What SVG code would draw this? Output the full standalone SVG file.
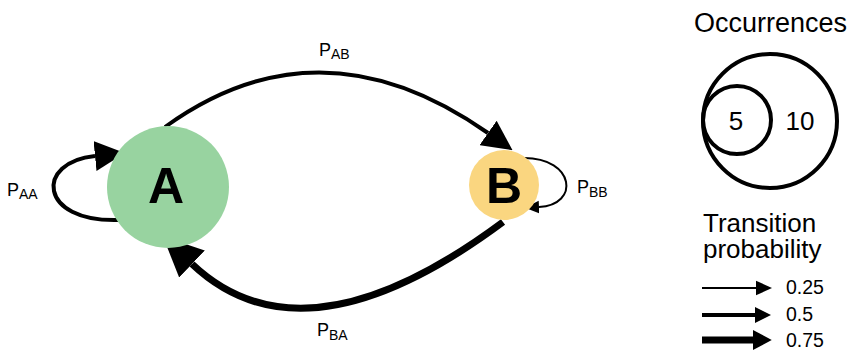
<svg xmlns="http://www.w3.org/2000/svg" width="850" height="351" viewBox="0 0 850 351">
<style>
.t{font-family:"Liberation Sans",Arial,sans-serif;fill:#000}
.lbl{font-size:18px}
.sub{font-size:14px}
.big{font-size:26px}
.num{font-size:19.5px}
.node{font-family:"Liberation Sans",Arial,sans-serif;font-weight:bold;fill:#000;font-size:50px}
.c{fill:none;stroke:#000;stroke-linecap:butt}
</style>
<defs>
<marker id="hAB" markerUnits="userSpaceOnUse" markerWidth="30" markerHeight="30" refX="0" refY="11" orient="auto" viewBox="0 0 22 22"><path d="M0,0 L22,11 L0,22 Z" fill="#000"/></marker>
<marker id="hBA" markerUnits="userSpaceOnUse" markerWidth="40" markerHeight="40" refX="0" refY="14" orient="auto" viewBox="0 0 30 28"><path d="M0,0 L30,14 L0,28 Z" fill="#000"/></marker>
<marker id="hAA" markerUnits="userSpaceOnUse" markerWidth="30" markerHeight="30" refX="0" refY="11" orient="auto" viewBox="0 0 22 22"><path d="M0,0 L22,11 L0,22 Z" fill="#000"/></marker>
<marker id="hBB" markerUnits="userSpaceOnUse" markerWidth="14" markerHeight="14" refX="0" refY="5" orient="auto" viewBox="0 0 11 10"><path d="M0,0 L11,5 L0,10 Z" fill="#000"/></marker>
<marker id="h1" markerUnits="userSpaceOnUse" markerWidth="16" markerHeight="16" refX="0" refY="5.5" orient="auto" viewBox="0 0 12 11"><path d="M0,0 L12,5.5 L0,11 Z" fill="#000"/></marker>
<marker id="h2" markerUnits="userSpaceOnUse" markerWidth="16" markerHeight="16" refX="0" refY="6.5" orient="auto" viewBox="0 0 13 13"><path d="M0,0 L13,6.5 L0,13 Z" fill="#000"/></marker>
<marker id="h3" markerUnits="userSpaceOnUse" markerWidth="20" markerHeight="20" refX="0" refY="8" orient="auto" viewBox="0 0 15 16"><path d="M0,0 L15,8 L0,16 Z" fill="#000"/></marker>
</defs>

<g id="connectors">
<path id="eAB" class="c" stroke-width="4" d="M165,127 Q320,15 488,133" marker-end="url(#hAB)"/>
<path id="eBA" class="c" stroke-width="7" d="M503,222 Q304,370 192,264" marker-end="url(#hBA)"/>
<path id="eAA" class="c" stroke-width="4" d="M118,220 C38,222 35,162 95,156" marker-end="url(#hAA)"/>
<path id="eBB" class="c" stroke-width="2" d="M524,158 C575,158 580,205 539,207" marker-end="url(#hBB)"/>
</g>

<g id="nodeA">
<circle cx="168" cy="187" r="61" fill="#98d3a0"/>
<text class="node" x="166" y="203" text-anchor="middle">A</text>
</g>
<g id="nodeB">
<circle cx="504" cy="185" r="35" fill="#fad680"/>
<text class="node" x="504" y="203" text-anchor="middle">B</text>
</g>

<g id="labels">
<text class="t lbl" x="319" y="56">P<tspan class="sub" dy="3">AB</tspan></text>
<text class="t lbl" x="317" y="336">P<tspan class="sub" dy="4">BA</tspan></text>
<text class="t lbl" x="7" y="196">P<tspan class="sub" dy="3">AA</tspan></text>
<text class="t lbl" x="577" y="193">P<tspan class="sub" dy="4">BB</tspan></text>
</g>

<g id="legend-occurrences">
<text class="t" font-size="27" x="694" y="32">Occurrences</text>
<circle cx="770" cy="121" r="67" fill="none" stroke="#000" stroke-width="4"/>
<circle cx="737" cy="120" r="34" fill="none" stroke="#000" stroke-width="4"/>
<text class="t big" x="736" y="130" text-anchor="middle">5</text>
<text class="t big" x="800" y="130" text-anchor="middle">10</text>
</g>

<g id="legend-transition">
<text class="t big" x="703" y="232">Transition</text>
<text class="t big" x="703" y="258">probability</text>
<line class="c" x1="702" y1="288" x2="756" y2="288" stroke-width="2" marker-end="url(#h1)"/>
<line class="c" x1="702" y1="315" x2="755" y2="315" stroke-width="4" marker-end="url(#h2)"/>
<line class="c" x1="702" y1="340" x2="753" y2="340" stroke-width="7" marker-end="url(#h3)"/>
<text class="t num" x="786" y="294">0.25</text>
<text class="t num" x="786" y="321">0.5</text>
<text class="t num" x="786" y="347">0.75</text>
</g>
</svg>
